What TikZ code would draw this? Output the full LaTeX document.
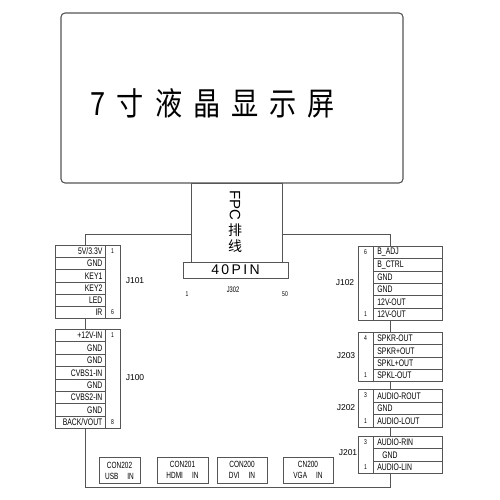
\documentclass[tikz,border=0pt]{standalone}
\usepackage{fontspec}
\setmainfont{Liberation Sans}
\newfontfamily\narrowfont[FakeStretch=0.72]{Liberation Sans}
\newfontfamily\cjkfont{Noto Sans CJK SC}
\newfontfamily\cjknarrow[FakeStretch=0.85]{Noto Sans CJK SC}
\usetikzlibrary{positioning}
\definecolor{linec}{HTML}{555555}
\tikzset{wire/.style={draw=linec, line width=0.9pt},
  lrow/.style={draw=linec, line width=0.8pt, anchor=north west, text width=44pt, inner xsep=3pt, inner ysep=0pt,
    align=right, font=\narrowfont\fontsize{9.5}{10}\selectfont},
  rrow/.style={lrow, text width=61pt, inner xsep=4pt, align=left},
  pcol/.style={draw=linec, line width=0.8pt, anchor=north west, minimum width=15pt, inner sep=0pt},
  pnum/.style={font=\narrowfont\fontsize{7}{7}\selectfont, inner sep=0pt},
  jlab/.style={font=\fontsize{8.5}{9}\selectfont, inner sep=0pt},
  cjkch/.style={font=\cjkfont\fontsize{14}{14}\selectfont, inner sep=0pt},
  conbox/.style={draw=linec, line width=0.8pt, align=center, inner sep=0pt,
    font=\narrowfont\fontsize{9}{11}\selectfont, minimum height=26pt}}

\begin{document}
\begin{tikzpicture}[x=1pt, y=-1pt]
  \useasboundingbox (0,0) rectangle (500,500);
  % LCD panel and flat cable
  \node[draw=linec, line width=1.1pt, rounded corners=4pt, minimum width=342pt, minimum height=170pt, inner sep=0pt] (lcd) at (232,98) {};
  \node[font=\cjknarrow\fontsize{32}{34}\selectfont, inner sep=0pt] (title) at (213,103)
    {7\hspace{11pt}寸\hspace{11pt}液\hspace{11pt}晶\hspace{11pt}显\hspace{11pt}示\hspace{11pt}屏};
  \node[draw=linec, line width=0.9pt, minimum width=91pt, minimum height=79pt, inner sep=0pt] (fpc) at (236.5,222.5) {};
  \node[rotate=-90, font=\fontsize{15}{16}\selectfont, inner sep=0pt] (fpct) at (235,205) {FPC};
  \node[cjkch] (fpcz1) at (235,230.5) {排};
  \node[cjkch] (fpcz2) at (235,246) {线};
  \node[draw=linec, line width=0.9pt, minimum width=105pt, minimum height=16pt, inner sep=0pt,
    font=\fontsize{14}{15}\selectfont] (pin40) at (235.5,270) {4\,0\,P\,I\,N};
  \node[pnum] (p1) at (187,294) {1};
  \node[jlab, font=\narrowfont\fontsize{8}{8}\selectfont] (j302) at (233,290) {J302};
  \node[pnum] (p50) at (285,294) {50};

  % left connectors: J101, J100
  \foreach \lab [count=\i] in {{5V/3.3V},GND,KEY1,KEY2,LED,IR}
    \node[lrow, minimum height=12.2pt] (j101r\i) at (55,{245+(\i-1)*12.2}) {\lab};
  \node[pcol, minimum height=73.2pt] (j101p) at (105,245) {};
  \node[pnum] at (112.5,251) {1};
  \node[pnum] at (112.5,312) {6};
  \node[jlab] (j101) at (135,281) {J101};
  \foreach \lab [count=\i] in {+12V-IN,GND,GND,CVBS1-IN,GND,CVBS2-IN,GND,{BACK/VOUT}}
    \node[lrow, minimum height=12.4pt] (j100r\i) at (55,{329+(\i-1)*12.4}) {\lab};
  \node[pcol, minimum height=99.2pt] (j100p) at (105,329) {};
  \node[pnum] at (112.5,335) {1};
  \node[pnum] at (112.5,422) {8};
  \node[jlab] (j100) at (135,378) {J100};

  % right connectors: J102, J203, J202, J201
  \foreach \lab [count=\i] in {B\_ADJ,B\_CTRL,GND,GND,12V-OUT,12V-OUT}
    \node[rrow, minimum height=12.3pt] (j102r\i) at (373,{246+(\i-1)*12.3}) {\lab};
  \node[pcol, minimum height=73.8pt] (j102p) at (358,246) {};
  \node[pnum] at (365.5,252) {6};
  \node[pnum] at (365.5,314) {1};
  \node[jlab] (j102) at (345,283) {J102};
  \foreach \lab [count=\i] in {SPKR-OUT,SPKR+OUT,SPKL+OUT,SPKL-OUT}
    \node[rrow, minimum height=12.25pt] (j203r\i) at (373,{332+(\i-1)*12.25}) {\lab};
  \node[pcol, minimum height=49pt] (j203p) at (358,332) {};
  \node[pnum] at (365.5,338) {4};
  \node[pnum] at (365.5,375) {1};
  \node[jlab] (j203) at (346,356) {J203};
  \foreach \lab [count=\i] in {AUDIO-ROUT,GND,AUDIO-LOUT}
    \node[rrow, minimum height=12.7pt] (j202r\i) at (373,{389+(\i-1)*12.7}) {\lab};
  \node[pcol, minimum height=38.1pt] (j202p) at (358,389) {};
  \node[pnum] at (365.5,395) {3};
  \node[pnum] at (365.5,421) {1};
  \node[jlab] (j202) at (346,408) {J202};
  \foreach \lab [count=\i] in {AUDIO-RIN,\hspace{5pt}GND,AUDIO-LIN}
    \node[rrow, minimum height=12.4pt] (j201r\i) at (373,{436+(\i-1)*12.4}) {\lab};
  \node[pcol, minimum height=37.2pt] (j201p) at (358,436) {};
  \node[pnum] at (365.5,442) {3};
  \node[pnum] at (365.5,467) {1};
  \node[jlab] (j201) at (348,453) {J201};

  % board outline
  \coordinate (tl) at (85,234);
  \coordinate (tr) at (390,234);
  \coordinate (bl) at (85,487);
  \coordinate (br) at (390,487);
  \draw[wire] (fpc.west |- tl) -- (tl) -- (tl |- j101r1.north);
  \draw[wire] (tl |- j101r6.south) -- (tl |- j100r1.north);
  \draw[wire] (tl |- j100r8.south) -- (bl) -- (br) -- (br |- j201r3.south);
  \draw[wire] (tr |- j201r1.north) -- (tr |- j202r3.south);
  \draw[wire] (tr |- j202r1.north) -- (tr |- j203r4.south);
  \draw[wire] (tr |- j203r1.north) -- (tr |- j102r6.south);
  \draw[wire] (tr |- j102r1.north) -- (tr) -- (fpc.east |- tr);

  % video inputs along the bottom edge
  \node[conbox, minimum width=41pt] (con202) at (119.5,470.5) {CON202\\USB\quad IN};
  \node[conbox, minimum width=51pt] (con201) at (182.5,470) {CON201\\HDMI\quad IN};
  \node[conbox, minimum width=50pt] (con200) at (242,470) {CON200\\DVI\quad IN};
  \node[conbox, minimum width=50pt] (cn200) at (308,470) {CN200\\VGA\quad IN};
\end{tikzpicture}
\end{document}
